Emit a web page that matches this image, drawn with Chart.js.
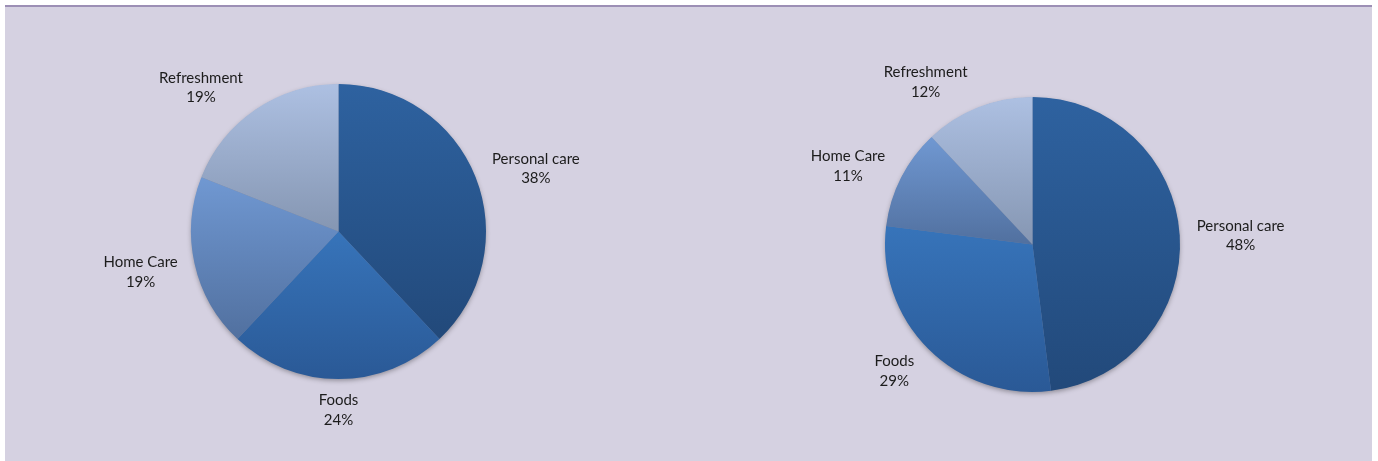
<!DOCTYPE html>
<html>
<head>
<meta charset="utf-8">
<script src="https://cdn.jsdelivr.net/npm/chart.js@4.4.1/dist/chart.umd.min.js"></script>
<style>
    html, body { margin: 0; padding: 0; background: #ffffff; width: 1378px; height: 461px; overflow: hidden; }
    .panel {
        position: absolute; left: 5px; top: 5px; width: 1367px; height: 460px;
        background: #d5d1e1; border-top: 2px solid #9c8fb5; box-sizing: border-box;
    }
    .pie { position: absolute; width: 600px; height: 440px; }
    #pieLeft { left: 39px; top: 11px; }
    #pieRight { left: 733px; top: 24px; }
</style>
</head>
<body>
<div class="panel"></div>
<div class="pie" id="pieLeft"><canvas id="chartLeft"></canvas></div>
<div class="pie" id="pieRight"><canvas id="chartRight"></canvas></div>

<script>
// === Data ===
const categories = ['Personal care', 'Foods', 'Home Care', 'Refreshment'];
const leftShares = [38, 24, 19, 19];
const rightShares = [48, 29, 11, 12];

// top / bottom colours of each slice's vertical gradient
const sliceTop = ['#2e62a0', '#3774ba', '#7098d2', '#adc0e2'];
const sliceBottom = ['#22497a', '#2a5996', '#51709f', '#8596b2'];

const LABEL_FONT = '15px Lato';
const LINE_HEIGHT = 19.5;

// === Slice gradient (per slice, light at its top, dark at its bottom) ===
function sliceGradient(ctx) {
    const chart = ctx.chart;
    const area = chart.chartArea;
    const i = ctx.dataIndex;
    if (!area || ctx.type !== 'data') return sliceTop[i];

    const cx = (area.left + area.right) / 2;
    const cy = (area.top + area.bottom) / 2;
    const r = Math.min(area.right - area.left, area.bottom - area.top) / 2;

    const data = ctx.dataset.data;
    const total = data.reduce((a, b) => a + b, 0);
    const before = data.slice(0, i).reduce((a, b) => a + b, 0);
    const start = -Math.PI / 2 + 2 * Math.PI * before / total;
    const end = start + 2 * Math.PI * data[i] / total;

    let ys = [cy, cy + r * Math.sin(start), cy + r * Math.sin(end)];
    // arc passes through bottom (pi/2) or top (3pi/2)?
    [Math.PI / 2, 3 * Math.PI / 2].forEach(a => {
        if (a > start && a < end) ys.push(cy + r * Math.sin(a));
    });
    const yMin = Math.min(...ys), yMax = Math.max(...ys);

    const g = chart.ctx.createLinearGradient(0, yMin, 0, yMax);
    g.addColorStop(0, sliceTop[i]);
    g.addColorStop(1, sliceBottom[i]);
    return g;
}

// === Soft shadow under the pie ===
const pieShadow = {
    id: 'pieShadow',
    beforeDatasetsDraw(chart) {
        const arc = chart.getDatasetMeta(0).data[0];
        if (!arc) return;
        const { x, y, outerRadius } = arc.getProps(['x', 'y', 'outerRadius'], true);
        const c = chart.ctx;
        c.save();
        c.shadowColor = 'rgba(0,0,0,0.35)';
        c.shadowBlur = 5;
        c.shadowOffsetY = 2;
        c.fillStyle = '#6f7fa0';
        c.beginPath();
        c.arc(x, y, outerRadius - 0.5, 0, Math.PI * 2);
        c.fill();
        c.restore();
    }
};

// === Outside-end labels: category name + percent ===
const outsideLabels = {
    id: 'outsideLabels',
    afterDatasetsDraw(chart) {
        const c = chart.ctx;
        const meta = chart.getDatasetMeta(0);
        const values = chart.data.datasets[0].data;
        const total = values.reduce((a, b) => a + b, 0);

        c.save();
        c.font = LABEL_FONT;
        c.fillStyle = '#1c1c1c';
        c.textAlign = 'center';
        c.textBaseline = 'middle';

        meta.data.forEach((arc, i) => {
            const p = arc.getProps(['x', 'y', 'startAngle', 'endAngle', 'outerRadius'], true);
            const mid = (p.startAngle + p.endAngle) / 2;
            const dx = Math.cos(mid), dy = Math.sin(mid);
            const gap = 10;
            const px = p.x + dx * (p.outerRadius + gap);
            const py = p.y + dy * (p.outerRadius + gap);

            const lines = [chart.data.labels[i], Math.round(values[i] / total * 100) + '%'];
            const w = Math.max(...lines.map(t => c.measureText(t).width)) + 14;
            const h = 38;
            const lx = px + Math.max(-1, Math.min(1, dx * 5)) * w / 2;
            const ly = py + dy * h / 2 + 2;

            c.fillText(lines[0], lx, ly - LINE_HEIGHT / 2);
            c.fillText(lines[1], lx, ly + LINE_HEIGHT / 2);
        });
        c.restore();
    }
};

// === Chart setup ===
function makePie(canvasId, shares) {
    const ctx = document.getElementById(canvasId).getContext('2d');
    return new Chart(ctx, {
        type: 'pie',
        data: {
            labels: categories,
            datasets: [{
                data: shares,
                backgroundColor: sliceGradient,
                borderWidth: 0
            }]
        },
        options: {
            responsive: true,
            maintainAspectRatio: false,
            animation: false,
            layout: { padding: { top: 73, bottom: 72, left: 152, right: 153 } },
            plugins: {
                legend: { display: false },
                tooltip: { enabled: false }
            }
        },
        plugins: [pieShadow, outsideLabels]
    });
}

makePie('chartLeft', leftShares);
makePie('chartRight', rightShares);
</script>
</body>
</html>
